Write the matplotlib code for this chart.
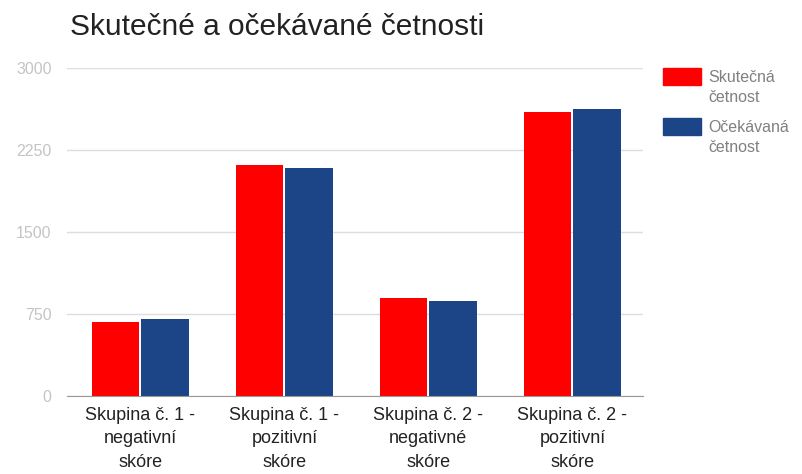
import numpy as np
import matplotlib.pyplot as plt
from matplotlib.patches import Rectangle

plt.rcParams['font.family'] = ['Liberation Sans', 'DejaVu Sans']

categories = ["Skupina č. 1 -\nnegativní\nskóre",
              "Skupina č. 1 -\npozitivní\nskóre",
              "Skupina č. 2 -\nnegativné\nskóre",
              "Skupina č. 2 -\npozitivní\nskóre"]
skutecna = [675, 2112, 900, 2600]
ocekavana = [702, 2087, 872, 2627]
series_names = ["Skutečná\nčetnost", "Očekávaná\nčetnost"]
colors = ["#ff0000", "#1c4587"]
yticks = [0, 750, 1500, 2250, 3000]

fig = plt.figure(figsize=(8.03, 4.74), dpi=100)
ax = fig.add_axes([0.0834, 0.1646, 0.7173, 0.6914])

x = np.arange(len(categories))
w = 0.33
ax.bar(x - w / 2 - 0.007, skutecna, w, color=colors[0], edgecolor='none')
ax.bar(x + w / 2 + 0.007, ocekavana, w, color=colors[1], edgecolor='none')

ax.set_xlim(-0.51, len(categories) - 0.51)
ax.set_ylim(0, 3000)
ax.set_yticks(yticks)
ax.set_yticklabels([str(v) for v in yticks], color='#c4c4c4', fontsize=11.5)
ax.tick_params(axis='y', length=0, pad=11)
ax.set_xticks(x)
ax.set_xticklabels(categories, fontsize=13, color='#222222', linespacing=1.48)
ax.tick_params(axis='x', length=0, pad=8)
ax.grid(axis='y', color='#dddddd', linewidth=1)
ax.set_axisbelow(True)
for s in ['top', 'right', 'left']:
    ax.spines[s].set_visible(False)
ax.spines['bottom'].set_color('#999999')
ax.spines['bottom'].set_zorder(3)

fig.text(70 / 803, 1 - 35 / 474, "Skutečné a očekávané četnosti",
         fontsize=21.5, color='#222222', va='baseline', ha='left')

# legend on the right
for i, (name, c) in enumerate(zip(series_names, colors)):
    top = 68 + i * 50
    fig.patches.append(Rectangle((663 / 803, 1 - (top + 17) / 474), 38 / 803, 17 / 474,
                                 transform=fig.transFigure, color=c))
    fig.text(708 / 803, 1 - (top + 19.5) / 474, name, fontsize=11.5, color='#808080',
             va='center', ha='left', linespacing=1.45)

fig.savefig("out.png", dpi=100)
